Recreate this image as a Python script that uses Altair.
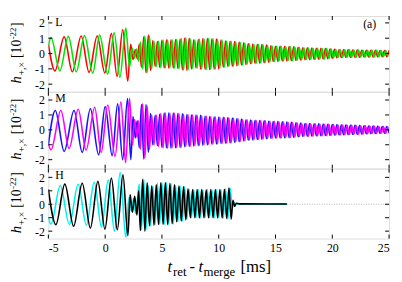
import altair as alt
import pandas as pd

# ---------------- data ----------------
X_DOMAIN = [-5, 25]
X_TICKS = [-5, 0, 5, 10, 15, 20, 25]
Y_TICKS = [-2, -1, 0, 1, 2]

# post-merger extrema times (series "A" and series "B", a quarter cycle apart)
T_POST_A = [3.0, 3.2, 3.4, 3.6, 3.8, 4.0, 4.2, 4.4, 4.6, 4.8,
            5.0, 5.2, 5.4, 5.6, 5.8, 6.0, 6.2, 6.4, 6.6, 6.8,
            7.0, 7.2, 7.4, 7.6, 7.8, 8.0, 8.2, 8.4, 8.6, 8.8,
            9.0, 9.2, 9.4, 9.6, 9.8, 10.0, 10.2, 10.4, 10.6, 10.8,
            11.0, 11.2, 11.4, 11.6, 11.8, 12.0, 12.2, 12.4, 12.6, 12.8,
            13.0, 13.2, 13.4, 13.6, 13.8, 14.0, 14.2, 14.4, 14.6, 14.8,
            15.0, 15.2, 15.4, 15.6, 15.8, 16.0, 16.2, 16.4, 16.6, 16.8,
            17.0, 17.2, 17.4, 17.6, 17.8, 18.0, 18.2, 18.4, 18.6, 18.8,
            19.0, 19.2, 19.4, 19.6, 19.8, 20.0, 20.2, 20.4, 20.6, 20.8,
            21.0, 21.2, 21.4, 21.6, 21.8, 22.0, 22.2, 22.4, 22.6, 22.8,
            23.0, 23.2, 23.4, 23.6, 23.8, 24.0, 24.2, 24.4, 24.6, 24.8,
            25.0]
T_POST_B = [3.1, 3.3, 3.5, 3.7, 3.9, 4.1, 4.3, 4.5, 4.7, 4.9,
            5.1, 5.3, 5.5, 5.7, 5.9, 6.1, 6.3, 6.5, 6.7, 6.9,
            7.1, 7.3, 7.5, 7.7, 7.9, 8.1, 8.3, 8.5, 8.7, 8.9,
            9.1, 9.3, 9.5, 9.7, 9.9, 10.1, 10.3, 10.5, 10.7, 10.9,
            11.1, 11.3, 11.5, 11.7, 11.9, 12.1, 12.3, 12.5, 12.7, 12.9,
            13.1, 13.3, 13.5, 13.7, 13.9, 14.1, 14.3, 14.5, 14.7, 14.9,
            15.1, 15.3, 15.5, 15.7, 15.9, 16.1, 16.3, 16.5, 16.7, 16.9,
            17.1, 17.3, 17.5, 17.7, 17.9, 18.1, 18.3, 18.5, 18.7, 18.9,
            19.1, 19.3, 19.5, 19.7, 19.9, 20.1, 20.3, 20.5, 20.7, 20.9,
            21.1, 21.3, 21.5, 21.7, 21.9, 22.1, 22.3, 22.5, 22.7, 22.9,
            23.1, 23.3, 23.5, 23.7, 23.9, 24.1, 24.3, 24.5, 24.7, 24.9]

# ---- L (red / green) ----
L_RED_PRE_T = [-5.0, -4.42, -3.61, -2.89, -2.11, -1.42, -0.70, -0.03, 0.55, 1.05, 1.55, 1.99, 2.25, 2.45, 2.65, 2.85]
L_RED_PRE_H = [0.6, -1.13, 1.09, -1.19, 1.15, -1.23, 1.15, -1.27, 1.30, -1.49, 1.57, -1.80, 0.6, -0.4, 0.25, -0.35]
L_RED_POST_H = [0.6, -0.9, 1.1, -1.25, 1.2, -1.1, 0.85, -0.85, 0.78, -0.9,
                0.88, -0.95, 0.9, -0.95, 0.9, -0.95, 0.92, -0.98, 0.95, -1.05,
                1.0, -1.1, 1.0, -1.0, 0.9, -0.95, 0.92, -1.0, 0.97, -1.03,
                0.98, -1.04, 0.97, -1.02, 0.95, -1.0, 0.9, -0.9, 0.82, -0.85,
                0.8, -0.83, 0.78, -0.8, 0.75, -0.75, 0.7, -0.72, 0.66, -0.66,
                0.62, -0.64, 0.6, -0.62, 0.58, -0.6, 0.55, -0.57, 0.5, -0.52,
                0.48, -0.5, 0.47, -0.49, 0.46, -0.48, 0.45, -0.47, 0.44, -0.46,
                0.4, -0.42, 0.38, -0.4, 0.37, -0.39, 0.36, -0.38, 0.35, -0.37,
                0.34, -0.36, 0.33, -0.34, 0.3, -0.3, 0.27, -0.27, 0.25, -0.26,
                0.24, -0.25, 0.24, -0.25, 0.23, -0.24, 0.23, -0.24, 0.22, -0.23,
                0.22, -0.23, 0.21, -0.22, 0.21, -0.22, 0.2, -0.21, 0.2, -0.21,
                0.2]
L_GRN_PRE_T = [-5.0, -4.77, -3.99, -3.24, -2.54, -1.82, -1.09, -0.49, 0.22, 0.80, 1.30, 1.82, 2.15, 2.38, 2.58, 2.78, 2.95]
L_GRN_PRE_H = [0.5, 1.05, -1.13, 1.12, -1.19, 1.17, -1.27, 1.20, -1.34, 1.35, -1.55, 1.66, -0.9, 0.35, -0.3, 0.3, -0.5]
L_GRN_POST_H = [0.75, -1.0, 1.15, -1.25, 1.15, -1.0, 0.8, -0.85, 0.8, -0.92,
                0.88, -0.95, 0.9, -0.95, 0.9, -0.96, 0.93, -1.0, 0.98, -1.08,
                1.02, -1.08, 0.95, -0.98, 0.9, -0.96, 0.95, -1.02, 0.98, -1.04,
                0.98, -1.03, 0.96, -1.01, 0.93, -0.95, 0.86, -0.88, 0.81, -0.84,
                0.79, -0.82, 0.77, -0.78, 0.72, -0.74, 0.68, -0.7, 0.64, -0.65,
                0.61, -0.63, 0.59, -0.61, 0.57, -0.58, 0.52, -0.55, 0.49, -0.51,
                0.47, -0.5, 0.47, -0.48, 0.45, -0.47, 0.44, -0.46, 0.42, -0.44,
                0.39, -0.41, 0.37, -0.39, 0.36, -0.38, 0.35, -0.37, 0.34, -0.36,
                0.33, -0.35, 0.32, -0.32, 0.29, -0.29, 0.26, -0.26, 0.25, -0.25,
                0.24, -0.25, 0.24, -0.24, 0.23, -0.24, 0.23, -0.23, 0.22, -0.23,
                0.22, -0.22, 0.21, -0.22, 0.21, -0.21, 0.2, -0.21, 0.2, -0.2]

# ---- M (blue / magenta) ----
M_BLU_PRE_T = [-5.0, -4.39, -3.61, -2.74, -2.02, -1.30, -0.57, 0.0, 0.62, 1.10, 1.54, 1.97, 2.26, 2.45, 2.65, 2.82]
M_BLU_PRE_H = [-1.0, 1.30, -1.45, 1.30, -1.51, 1.41, -1.67, 1.56, -1.73, 1.74, -2.0, 2.1, -2.0, 0.9, -0.55, 0.6]
M_BLU_POST_H = [-1.2, 1.7, -1.95, 1.7, -1.5, 1.1, -1.0, 0.97, -1.05, 1.05,
                -1.18, 1.12, -1.2, 1.12, -1.22, 1.12, -1.2, 1.1, -1.18, 1.08,
                -1.12, 1.02, -1.1, 1.0, -1.08, 1.0, -1.05, 0.97, -1.03, 0.93,
                -1.0, 0.9, -0.97, 0.88, -0.95, 0.86, -0.92, 0.84, -0.9, 0.82,
                -0.88, 0.8, -0.84, 0.76, -0.8, 0.72, -0.74, 0.68, -0.7, 0.66,
                -0.67, 0.64, -0.65, 0.63, -0.63, 0.61, -0.6, 0.58, -0.57, 0.56,
                -0.55, 0.55, -0.54, 0.54, -0.53, 0.52, -0.52, 0.5, -0.5, 0.48,
                -0.47, 0.45, -0.44, 0.43, -0.42, 0.42, -0.41, 0.41, -0.4, 0.4,
                -0.39, 0.39, -0.38, 0.38, -0.37, 0.36, -0.34, 0.34, -0.33, 0.33,
                -0.32, 0.32, -0.31, 0.31, -0.3, 0.3, -0.29, 0.29, -0.28, 0.27,
                -0.26, 0.26, -0.25, 0.25, -0.24, 0.24, -0.23, 0.23, -0.23, 0.22,
                -0.22]
M_MAG_PRE_T = [-5.0, -4.77, -3.90, -3.18, -2.37, -1.68, -0.92, -0.35, 0.23, 0.87, 1.39, 1.80, 2.15, 2.40, 2.60, 2.80, 2.95]
M_MAG_PRE_H = [-0.95, -1.34, 1.30, -1.25, 1.38, -1.36, 1.51, -1.51, 1.67, -1.78, 1.89, -2.2, 2.1, -1.0, 0.7, -0.5, 0.6]
M_MAG_POST_H = [-1.3, 1.75, -1.9, 1.6, -1.3, 1.0, -1.02, 1.0, -1.1, 1.1,
                -1.2, 1.12, -1.22, 1.13, -1.2, 1.11, -1.19, 1.09, -1.15, 1.05,
                -1.11, 1.01, -1.09, 1.0, -1.06, 0.98, -1.04, 0.95, -1.01, 0.92,
                -0.98, 0.89, -0.96, 0.87, -0.93, 0.85, -0.91, 0.83, -0.89, 0.81,
                -0.86, 0.78, -0.82, 0.74, -0.77, 0.7, -0.72, 0.67, -0.68, 0.65,
                -0.66, 0.63, -0.64, 0.62, -0.62, 0.6, -0.58, 0.57, -0.56, 0.55,
                -0.55, 0.54, -0.54, 0.53, -0.52, 0.51, -0.51, 0.49, -0.48, 0.47,
                -0.45, 0.44, -0.43, 0.42, -0.42, 0.41, -0.41, 0.4, -0.4, 0.39,
                -0.39, 0.38, -0.38, 0.37, -0.36, 0.35, -0.34, 0.33, -0.33, 0.32,
                -0.32, 0.31, -0.31, 0.3, -0.3, 0.29, -0.29, 0.28, -0.27, 0.27,
                -0.26, 0.25, -0.25, 0.24, -0.24, 0.23, -0.23, 0.23, -0.22, 0.22]

# ---- H (cyan / black) ----
H_CYA_PRE_T = [-5.0, -4.77, -3.95, -3.15, -2.38, -1.65, -0.96, -0.32, 0.27, 0.82, 1.32, 1.82, 2.10, 2.30, 2.50, 2.70]
H_CYA_PRE_H = [-1.0, -1.47, 1.39, -1.50, 1.49, -1.56, 1.64, -1.70, 1.81, -2.0, 2.38, -2.46, 0.5, -0.5, 0.4, -0.7]
H_CYA_POST_H = [1.5, -1.9, 1.85, -1.9, 1.4, -1.6, 1.35, -1.5, 1.55, -1.5,
                1.6, -1.5, 1.6, -1.5, 1.55, -1.45, 1.4, -1.3, 1.35, -1.25,
                1.3, -1.1, 1.1, -1.0, 1.1, -1.0, 1.1, -1.0, 1.08, -1.0,
                1.1, -1.0, 1.08, -1.0, 1.1, -1.02, 1.1, -1.02, 1.15, -1.1,
                1.2, -0.3]
H_CYA_TAIL_T = [11.32, 11.45, 11.58, 11.8, 16.0]
H_CYA_TAIL_H = [0.15, -0.1, 0.06, 0.03, 0.01]
H_BLK_PRE_T = [-5.0, -4.34, -3.55, -2.78, -2.02, -1.30, -0.64, -0.02, 0.55, 1.07, 1.57, 2.00, 2.20, 2.40, 2.60, 2.80, 2.95]
H_BLK_PRE_H = [1.1, -1.52, 1.5, -1.64, 1.56, -1.77, 1.7, -1.85, 1.95, -1.9, 2.2, -2.33, 0.7, -0.6, 0.6, -0.8, 1.0]
H_BLK_POST_H = [-1.95, 1.85, -2.0, 1.6, -1.6, 1.35, -1.55, 1.45, -1.5, 1.6,
                -1.5, 1.6, -1.5, 1.55, -1.45, 1.45, -1.3, 1.35, -1.25, 1.3,
                -1.15, 1.15, -1.0, 1.1, -1.0, 1.1, -1.0, 1.1, -1.0, 1.08,
                -1.0, 1.1, -1.0, 1.1, -1.0, 1.1, -1.02, 1.12, -1.05, 1.2,
                -1.1]
H_BLK_TAIL_T = [11.25, 11.4, 11.55, 11.8, 16.0]
H_BLK_TAIL_H = [0.3, -0.15, 0.08, 0.03, 0.02]

PANEL_LABELS = ["L", "M", "H"]
TAG = "(a)"

# ---------------- layout / style ----------------
FONT = "Liberation Serif, Times New Roman, Times, serif"
W = 346
HEIGHTS = [77, 78, 71]
Y_DOMAINS = [[-2.5, 2.45], [-2.6, 2.55], [-2.55, 2.65]]
LW = 1.6

# y-title pieces: text, size, style, advance (px), baseline shift (px)
Y_TITLE = [("h", 15, "italic", 7.5, 0), ("+,\u00d7", 10, "normal", 13.8, 3.5),
           ("[10", 14, "normal", 18.5, 0), ("-22", 9, "normal", 12.0, -5.5),
           ("]", 14, "normal", 4.7, 0)]
Y_TITLE_GAPS = [0, 0.5, 4.0, 0.5, 0.5]
# x-title pieces: text, size, style, x (px from plot left), baseline shift
X_TITLE = [("t", 17, "italic", 121.0, 0), ("ret", 13, "normal", 126.5, 4.5),
           ("-", 17, "normal", 143.3, 0), ("t", 17, "italic", 152.5, 0),
           ("merge", 13, "normal", 157.5, 4.5), ("[ms]", 17, "normal", 195.0, 0)]


def series(*segments):
    t, h = [], []
    for st, sh in segments:
        for a, b in zip(st, sh):
            t.append(a)
            h.append(b)
    return pd.DataFrame({"t": t, "h": h})


def txt_layer(s, **kw):
    enc = {k: kw.pop(k) for k in ("x", "y")}
    return alt.Chart(pd.DataFrame({"s": [s]})).mark_text(color="black", **kw).encode(
        text="s:N", x=alt.value(enc["x"]), y=alt.value(enc["y"]))


def panel(idx, dfA, colA, dfB, colB, bottom=False, zero_line=False, tag=None):
    height = HEIGHTS[idx]
    xaxis = alt.Axis(values=X_TICKS, ticks=False, domain=False, grid=False,
                     labelExpr="'' + datum.value", labelFont=FONT, labelFontSize=12,
                     labelPadding=4, labelColor="black", title=None) if bottom else None
    x = alt.X("t:Q", scale=alt.Scale(domain=X_DOMAIN, nice=False, zero=False), axis=xaxis)
    y = alt.Y("h:Q", scale=alt.Scale(domain=Y_DOMAINS[idx], nice=False, zero=False),
              axis=alt.Axis(values=Y_TICKS, ticks=False, domain=False, grid=False,
                            labelExpr="'' + datum.value", labelFont=FONT, labelFontSize=12,
                            labelPadding=4, labelColor="black", title=None))
    layers = []
    if zero_line:
        layers.append(alt.Chart(pd.DataFrame({"h": [0]})).mark_rule(
            color="#9a9a9a", strokeWidth=0.7, strokeDash=[1, 1.5]).encode(y=y))
    layers.append(alt.Chart(dfA).mark_line(color=colA, strokeWidth=LW, interpolate="monotone",
                                           clip=True).encode(x=x, y=y))
    layers.append(alt.Chart(dfB).mark_line(color=colB, strokeWidth=LW, interpolate="monotone",
                                           clip=True).encode(x=x, y=y))
    xt = pd.DataFrame({"t": X_TICKS})
    yt = pd.DataFrame({"h": Y_TICKS})
    layers.append(alt.Chart(xt).mark_rule(color="black", strokeWidth=1).encode(
        x=x, y=alt.value(0), y2=alt.value(4)))
    layers.append(alt.Chart(xt).mark_rule(color="black", strokeWidth=1).encode(
        x=x, y=alt.value(height - 4), y2=alt.value(height)))
    layers.append(alt.Chart(yt).mark_rule(color="black", strokeWidth=1).encode(
        y=y, x=alt.value(0), x2=alt.value(4)))
    layers.append(alt.Chart(yt).mark_rule(color="black", strokeWidth=1).encode(
        y=y, x=alt.value(W - 4), x2=alt.value(W)))
    layers.append(txt_layer(PANEL_LABELS[idx], font=FONT, fontSize=12, align="left",
                            baseline="alphabetic", x=7, y=10.5))
    if tag:
        layers.append(txt_layer(tag, font=FONT, fontSize=12, align="right",
                                baseline="alphabetic", x=W - 13, y=12.5))
    # rotated y title: h_{+,x} [10^{-22}]
    total = sum(p[3] for p in Y_TITLE) + sum(Y_TITLE_GAPS)
    ypos = height / 2 - 1 + total / 2
    base_x = -27.5
    for (s, fs, style, adv, shift), gap in zip(Y_TITLE, Y_TITLE_GAPS):
        ypos -= gap
        layers.append(txt_layer(s, font=FONT, fontSize=fs, fontStyle=style, angle=270,
                                align="left", baseline="alphabetic",
                                x=base_x + shift, y=ypos))
        ypos -= adv
    if bottom:
        base_y = height + 34
        for s, fs, style, xpos, shift in X_TITLE:
            layers.append(txt_layer(s, font=FONT, fontSize=fs, fontStyle=style,
                                    align="left", baseline="alphabetic",
                                    x=xpos, y=base_y + shift))
    return alt.layer(*layers).properties(width=W, height=height)


dL_red = series((L_RED_PRE_T, L_RED_PRE_H), (T_POST_A, L_RED_POST_H))
dL_grn = series((L_GRN_PRE_T, L_GRN_PRE_H), (T_POST_B, L_GRN_POST_H))
dM_blu = series((M_BLU_PRE_T, M_BLU_PRE_H), (T_POST_A, M_BLU_POST_H))
dM_mag = series((M_MAG_PRE_T, M_MAG_PRE_H), (T_POST_B, M_MAG_POST_H))
dH_cya = series((H_CYA_PRE_T, H_CYA_PRE_H), (T_POST_A, H_CYA_POST_H), (H_CYA_TAIL_T, H_CYA_TAIL_H))
dH_blk = series((H_BLK_PRE_T, H_BLK_PRE_H), (T_POST_B, H_BLK_POST_H), (H_BLK_TAIL_T, H_BLK_TAIL_H))

p1 = panel(0, dL_red, "#ff0000", dL_grn, "#00e600", tag=TAG)
p2 = panel(1, dM_blu, "#1414ff", dM_mag, "#ff00ff")
p3 = panel(2, dH_cya, "#00f0f0", dH_blk, "#000000", bottom=True, zero_line=True)

chart = alt.vconcat(p1, p2, p3, spacing=0, bounds="flush").properties(
    padding={"left": 0, "top": 5, "right": 4, "bottom": 0}
).configure_view(stroke="black", strokeWidth=1).configure_axis(
    labelFont=FONT, labelFontSize=12, labelColor="black"
).configure(background="white")

chart.save("out.html", embed_options={"renderer": "svg", "actions": False})
